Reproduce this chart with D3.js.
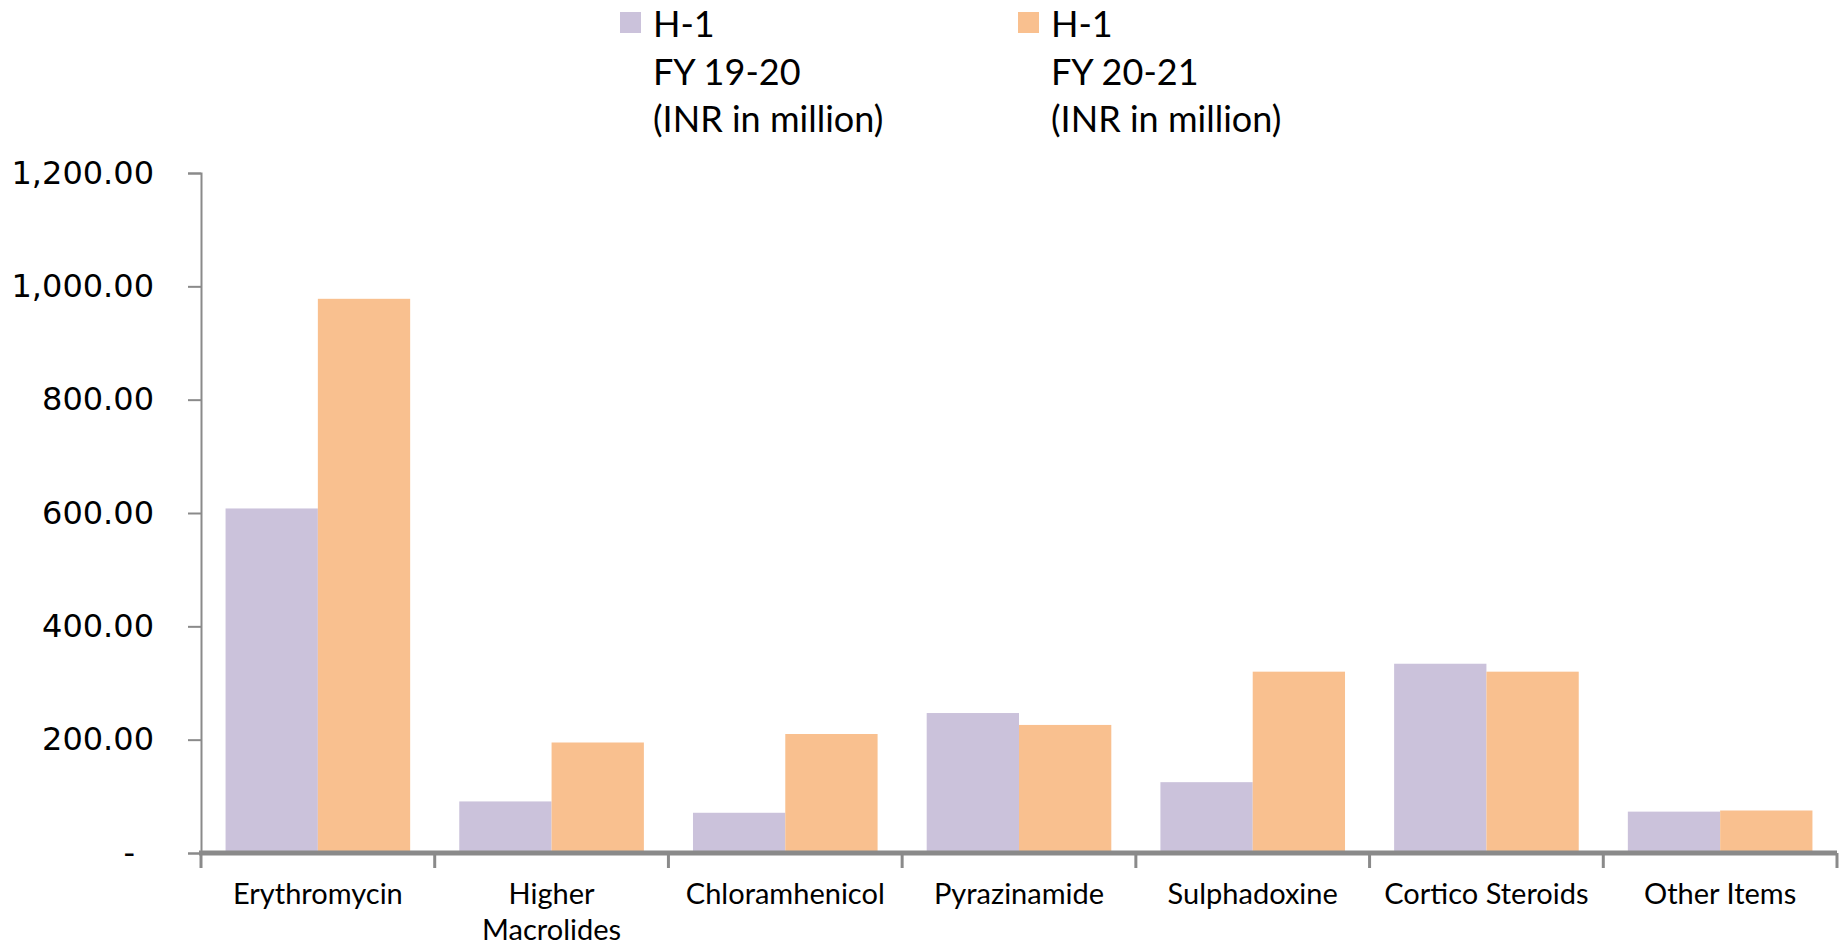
<!DOCTYPE html>
<html>
<head>
<meta charset="utf-8">
<script src="https://cdn.jsdelivr.net/npm/d3@7"></script>
<style>
html,body{margin:0;padding:0;background:#fff;}
svg{display:block;}
</style>
</head>
<body>
<svg id="chart" width="1844" height="948"></svg>
<script>
const categories = ["Erythromycin", "Higher Macrolides", "Chloramhenicol", "Pyrazinamide", "Sulphadoxine", "Cortico Steroids", "Other Items"];
const categoryLines = [["Erythromycin"], ["Higher", "Macrolides"], ["Chloramhenicol"], ["Pyrazinamide"], ["Sulphadoxine"], ["Cortico Steroids"], ["Other Items"]];
const seriesNames = ["FY 19-20", "FY 20-21"];
const legendLines = [["H-1", "FY 19-20", "(INR in million)"], ["H-1", "FY 20-21", "(INR in million)"]];
const fy1920 = [608, 91, 71, 247, 125, 334, 73];
const fy2021 = [978, 195, 210, 226, 320, 320, 75];
const yTicks = [0, 200, 400, 600, 800, 1000, 1200];
const colors = ["#CBC2DB", "#F9C08F"];

(function () {
const svg = d3.select("#chart");
const mLeft = 201, mRight = 1837, mTop = 173, mBottom = 853;

const y = d3.scaleLinear().domain([0, 1200]).range([mBottom, mTop]);
const x0 = d3.scaleBand().domain(categories).range([mLeft, mRight]).padding(0);
const x1 = d3.scaleBand().domain(seriesNames).range([0, x0.bandwidth()]).paddingInner(0).paddingOuter(0.266);

const seriesData = [fy1920, fy2021];

const g = svg.append("g");
categories.forEach((c, i) => {
  seriesNames.forEach((s, j) => {
    g.append("rect")
      .attr("x", x0(c) + x1(s))
      .attr("y", y(seriesData[j][i]))
      .attr("width", x1.bandwidth())
      .attr("height", y(0) - y(seriesData[j][i]))
      .attr("fill", colors[j]);
  });
});

const fmt = d => d === 0 ? "-" : d3.format(",.2f")(d);
const yAxis = d3.axisLeft(y).tickValues(yTicks).tickFormat(fmt).tickSize(13).tickPadding(34);
const ya = svg.append("g").attr("transform", `translate(${mLeft},0)`).call(yAxis);
ya.select(".domain").attr("stroke", "#8a8a8a").attr("stroke-width", 2);
ya.selectAll(".tick line").attr("stroke", "#8a8a8a").attr("stroke-width", 2);
ya.selectAll(".tick text").attr("font-family", "DejaVu Sans").attr("font-size", 32).attr("fill", "#000");
ya.selectAll(".tick text").filter(d => d === 0).attr("dx", -19);

const xa = svg.append("g").attr("transform", `translate(0,${mBottom})`);
xa.append("line").attr("x1", mLeft - 2).attr("x2", mRight).attr("y1", 0).attr("y2", 0)
  .attr("stroke", "#8a8a8a").attr("stroke-width", 5);
const bounds = categories.map(c => x0(c)).concat([mRight]);
xa.selectAll("line.xt").data(bounds).enter().append("line")
  .attr("class", "xt")
  .attr("x1", d => d).attr("x2", d => d).attr("y1", 0).attr("y2", 15)
  .attr("stroke", "#8a8a8a").attr("stroke-width", 3);

categories.forEach((c, i) => {
  const t = svg.append("text")
    .attr("x", x0(c) + x0.bandwidth() / 2)
    .attr("y", 904)
    .attr("text-anchor", "middle")
    .attr("font-family", "Lato")
    .attr("font-size", 29)
    .attr("fill", "#000");
  categoryLines[i].forEach((ln, k) => {
    t.append("tspan").attr("x", x0(c) + x0.bandwidth() / 2).attr("dy", k === 0 ? 0 : 36).text(ln);
  });
});

const legendX = [620, 1018];
legendLines.forEach((lines, j) => {
  svg.append("rect").attr("x", legendX[j]).attr("y", 12).attr("width", 21).attr("height", 21).attr("fill", colors[j]);
  lines.forEach((ln, k) => {
    svg.append("text")
      .attr("x", legendX[j] + 33)
      .attr("y", 37 + k * 47.6)
      .attr("font-family", "Lato")
      .attr("font-size", 36)
      .attr("fill", "#000")
      .text(ln);
  });
});
})();
</script>
</body>
</html>
